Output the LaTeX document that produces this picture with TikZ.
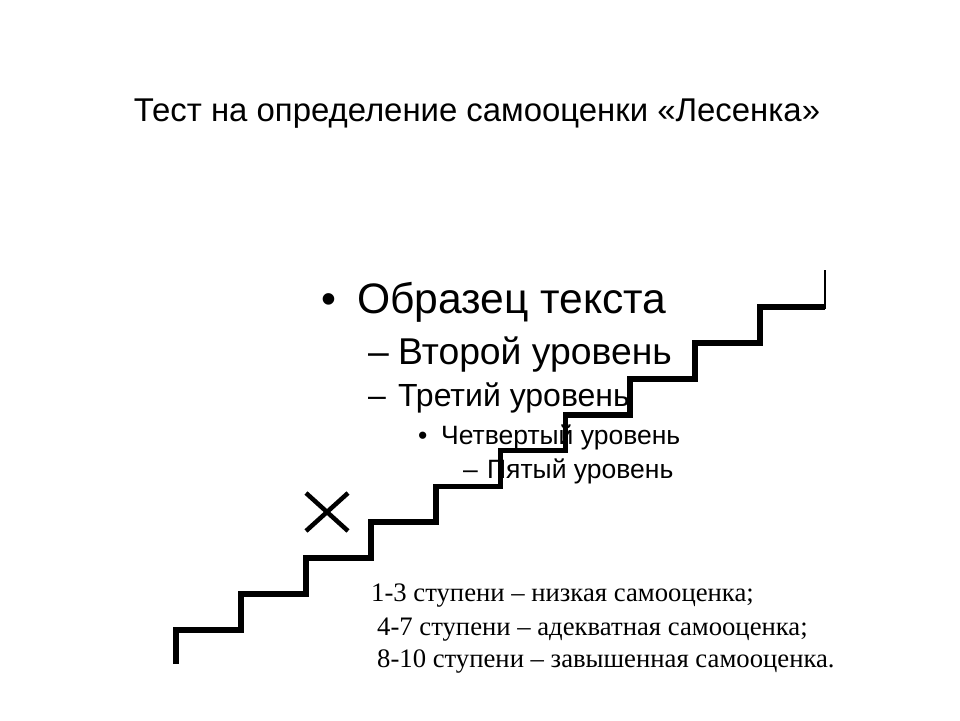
\documentclass[tikz,border=0pt]{standalone}
\usepackage{fontspec}
\setmainfont{Liberation Serif}
\setsansfont{Liberation Sans}
\usepackage{tikz}
\usetikzlibrary{calc}

\newcommand{\fsz}[1]{\fontsize{#1}{#1}\selectfont}

\tikzset{
  lvl/.style={anchor=base west, inner sep=0pt, font=\sffamily},
  note/.style={anchor=base west, inner sep=0pt},
  stair/.style={line width=5.8pt, line join=miter},
}

\begin{document}
\begin{tikzpicture}[x=1pt,y=-1pt]
    \useasboundingbox (0,0) rectangle (960,720) ;
    \def\xo{176}
    \def\yo{630}
    \def\dx{64.9}
    \def\dy{35.9}

    % heading
    \node [anchor=base, inner sep=0pt, font=\sffamily\fsz{32.9}] (title) at (477,121)
    {Тест на определение самооценки «Лесенка»} ;

    % placeholder list
    \node [lvl] (lvlone) at (321,313) {\fsz{42.6}\makebox[36pt][l]{•}Образец текста} ;
    \node [lvl] (lvltwo) at (368,364) {\fsz{37.3}\makebox[30pt][l]{–}Второй уровень} ;
    \node [lvl] (lvlthree) at (368,406) {\fsz{32}\makebox[30pt][l]{–}Третий уровень} ;
    \node [lvl] (lvlfour) at (418,444) {\fsz{26.5}\makebox[23pt][l]{•}Четвертый уровень} ;
    \node [lvl] (lvlfive) at (463,478) {\fsz{26.5}\makebox[24pt][l]{–}Пятый уровень} ;

    % the ladder, ten steps
    \draw [stair] (\xo,\yo+34) \foreach \i in {0,...,9} {
      -- (\xo+\i*\dx,\yo-\i*\dy) -- (\xo+\i*\dx+\dx,\yo-\i*\dy) } ;
    \draw [line width=1.8pt] (\xo+10*\dx,\yo-9*\dy+2.5) -- (\xo+10*\dx,270) ;

    % the cross on the third step
    \coordinate (cross) at (327,512) ;
    \draw [line width=4.5pt] ($(cross)+(-21,-19)$) -- ($(cross)+(21,19)$)
      ($(cross)+(21,-19)$) -- ($(cross)+(-21,19)$) ;

    % key
    \node [note, font=\fsz{26.7}] (stepslow) at (371,601) {1-3 ступени – низкая самооценка;} ;
    \node [note, font=\fsz{26.7}] (stepsmid) at (377,635) {4-7 ступени – адекватная самооценка;} ;
    \node [note, font=\fsz{26.7}] (stepshigh) at (377,667) {8-10 ступени – завышенная самооценка.} ;

  \end{tikzpicture}
\end{document}
